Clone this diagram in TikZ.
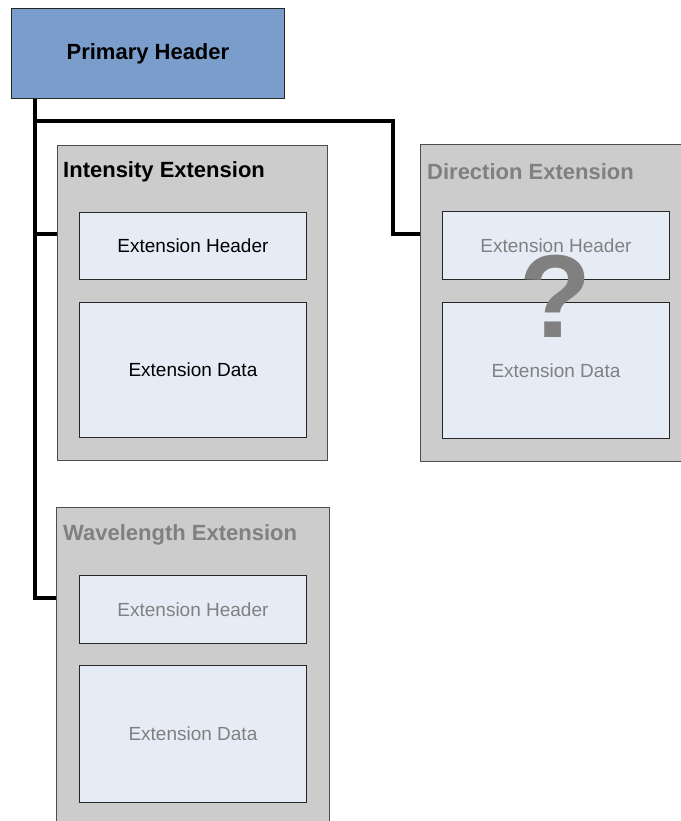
\documentclass[tikz,border=0pt]{standalone}
\usepackage{fontspec}
\setmainfont{Liberation Sans}
\usetikzlibrary{calc}
\definecolor{hdrblue}{HTML}{7B9DCC}
\definecolor{extgray}{HTML}{CCCCCC}
\definecolor{innerblue}{HTML}{E6ECF6}
\definecolor{fadedtext}{HTML}{808080}
\definecolor{edgegray}{HTML}{4D4D4D}
\tikzset{
  x=1pt, y=-1pt,
  primbox/.style={draw=black!85, line width=0.9pt, fill=hdrblue, anchor=north west,
    minimum width=273pt, minimum height=90pt, inner sep=0pt,
    font=\fontsize{22}{26}\selectfont\bfseries},
  extbox/.style={draw=edgegray, line width=0.9pt, fill=extgray, anchor=north west, inner sep=0pt},
  partbox/.style={draw=black!85, line width=0.9pt, fill=innerblue, anchor=north west,
    minimum width=227pt, inner sep=0pt, font=\fontsize{19}{23}\selectfont},
  exttitle/.style={anchor=west, inner sep=0pt, font=\fontsize{22}{26}\selectfont\bfseries},
  faded/.style={text=fadedtext},
  link/.style={line width=4pt, line join=miter}
}
\begin{document}
\begin{tikzpicture}
\useasboundingbox (0,0) rectangle (680,821);

% primary header
\node[primbox] (prim) at (11,8) {Primary Header};

% intensity extension
\node[extbox, minimum width=270pt, minimum height=315pt] (int) at (57,145) {};
\node[exttitle] (intT) at (63,172) {Intensity Extension};
\node[partbox, minimum height=67pt] (intH) at (79,212) {Extension Header};
\node[partbox, minimum height=135pt] (intD) at (79,302) {Extension Data};

% direction extension
\node[extbox, minimum width=270pt, minimum height=317pt] (dir) at (420,144) {};
\node[exttitle, faded] (dirT) at (427,172) {Direction Extension};
\node[partbox, faded, minimum height=68pt] (dirH) at (442,211) {Extension Header};
\node[partbox, faded, minimum height=136pt] (dirD) at (442,302) {Extension Data};
\node[text=fadedtext, inner sep=0pt, font=\fontsize{118}{120}\selectfont\bfseries] (q) at (556,296) {?};

% wavelength extension
\node[extbox, minimum width=273pt, minimum height=330pt] (wav) at (56,507) {};
\node[exttitle, faded] (wavT) at (63,535) {Wavelength Extension};
\node[partbox, faded, minimum height=68pt] (wavH) at (79,575) {Extension Header};
\node[partbox, faded, minimum height=137pt] (wavD) at (79,665) {Extension Data};

% tree connectors
\coordinate (trunk) at ($(prim.south west)+(24,0)$);
\coordinate (fork) at (trunk |- 0,121);
\coordinate (bend) at (393,121);
\draw[link] (trunk) -- (trunk |- 0,598) -- (wav.west |- 0,598);
\draw[link] (fork) -- (bend) -- (bend |- 0,234) -- (dir.west |- 0,234);
\draw[link] (trunk |- 0,234) -- (int.west |- 0,234);
\end{tikzpicture}
\end{document}
